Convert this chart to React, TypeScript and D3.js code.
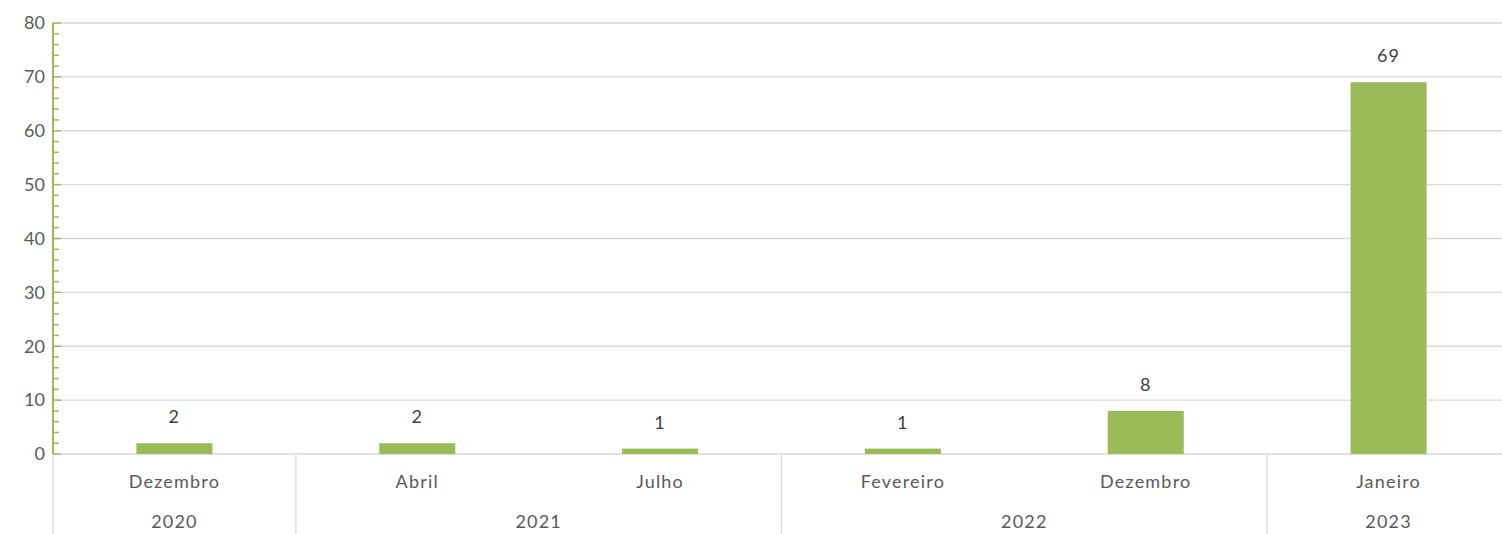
import React, { useEffect, useRef } from 'react';
import * as d3 from 'd3';

const months = ['Dezembro', 'Abril', 'Julho', 'Fevereiro', 'Dezembro', 'Janeiro'];
const years = ['2020', '2021', '2021', '2022', '2022', '2023'];
const values = [2, 2, 1, 1, 8, 69];
const yTicks = [0, 10, 20, 30, 40, 50, 60, 70, 80];

const W = 1502;
const H = 534;

export default function App() {
  const svgRef = useRef<SVGSVGElement>(null);

  useEffect(() => {
    if (!svgRef.current) return;
    const svg = d3.select(svgRef.current);
    svg.selectAll('*').remove();

    const font = "Lato, 'Open Sans', sans-serif";
    const margin = { top: 23, left: 53, bottom: 80 };
    const plotRight = 1510;
    const baseY = H - margin.bottom;

    const idx = values.map((_, i) => String(i));
    const x = d3.scaleBand().domain(idx).range([margin.left, plotRight]).paddingInner(0).paddingOuter(0);
    const y = d3.scaleLinear().domain([0, 80]).range([baseY, margin.top]);

    // gridlines
    svg.append('g')
      .selectAll('line')
      .data(yTicks)
      .enter()
      .append('line')
      .attr('x1', margin.left)
      .attr('x2', plotRight)
      .attr('y1', d => y(d))
      .attr('y2', d => y(d))
      .attr('stroke', '#d9d9d9')
      .attr('stroke-width', 1.3);

    // bars
    const barW = x.bandwidth() * 0.313;
    svg.append('g')
      .selectAll('rect')
      .data(values)
      .enter()
      .append('rect')
      .attr('x', (_, i) => x(String(i))! + (x.bandwidth() - barW) / 2)
      .attr('y', d => y(d))
      .attr('width', barW)
      .attr('height', d => baseY - y(d))
      .attr('fill', '#9bbb59');

    // data labels
    svg.append('g')
      .selectAll('text')
      .data(values)
      .enter()
      .append('text')
      .attr('x', (_, i) => x(String(i))! + x.bandwidth() / 2)
      .attr('y', d => y(d) - 20)
      .attr('text-anchor', 'middle')
      .style('font-family', font)
      .style('font-size', '18px')
      .style('letter-spacing', '1.2px')
      .style('fill', '#404040')
      .text(d => d);

    // y axis line and ticks
    const yAxis = svg.append('g');
    yAxis.append('line')
      .attr('x1', margin.left).attr('x2', margin.left)
      .attr('y1', y(80)).attr('y2', baseY)
      .attr('stroke', '#9bbb59').attr('stroke-width', 2);
    const minor = d3.range(0, 81, 2);
    yAxis.selectAll('.minor')
      .data(minor)
      .enter()
      .append('line')
      .attr('x1', margin.left)
      .attr('x2', d => margin.left + (d % 10 === 0 ? 8 : 6))
      .attr('y1', d => y(d))
      .attr('y2', d => y(d))
      .attr('stroke', '#9bbb59')
      .attr('stroke-width', 1.5);
    yAxis.selectAll('text')
      .data(yTicks)
      .enter()
      .append('text')
      .attr('x', margin.left - 8)
      .attr('y', d => y(d))
      .attr('dy', '0.35em')
      .attr('text-anchor', 'end')
      .style('font-family', font)
      .style('font-size', '18px')
      .style('fill', '#595959')
      .text(d => d);

    // category axis: month row and year groups
    const catAxis = svg.append('g');
    catAxis.selectAll('.month')
      .data(months)
      .enter()
      .append('text')
      .attr('x', (_, i) => x(String(i))! + x.bandwidth() / 2)
      .attr('y', baseY + 28)
      .attr('dy', '0.35em')
      .attr('text-anchor', 'middle')
      .style('font-family', font)
      .style('font-size', '18px')
      .style('letter-spacing', '1.2px')
      .style('fill', '#595959')
      .text(d => d);

    const groups: { year: string; start: number; end: number }[] = [];
    years.forEach((yr, i) => {
      const last = groups[groups.length - 1];
      if (last && last.year === yr) last.end = i;
      else groups.push({ year: yr, start: i, end: i });
    });

    catAxis.selectAll('.year')
      .data(groups)
      .enter()
      .append('text')
      .attr('x', g => (x(String(g.start))! + x(String(g.end))! + x.bandwidth()) / 2)
      .attr('y', baseY + 68)
      .attr('dy', '0.35em')
      .attr('text-anchor', 'middle')
      .style('font-family', font)
      .style('font-size', '18px')
      .style('letter-spacing', '1.2px')
      .style('fill', '#595959')
      .text(g => g.year);

    const bounds = [groups[0].start, ...groups.map(g => g.end + 1)];
    catAxis.selectAll('.sep')
      .data(bounds)
      .enter()
      .append('line')
      .attr('x1', b => b < values.length ? x(String(b))! : plotRight)
      .attr('x2', b => b < values.length ? x(String(b))! : plotRight)
      .attr('y1', baseY)
      .attr('y2', H)
      .attr('stroke', '#d9d9d9')
      .attr('stroke-width', 1.3);
  }, []);

  return (
    <svg
      ref={svgRef}
      width={W}
      height={H}
      style={{ position: 'absolute', left: 0, top: 0, background: '#fff' }}
    />
  );
}
